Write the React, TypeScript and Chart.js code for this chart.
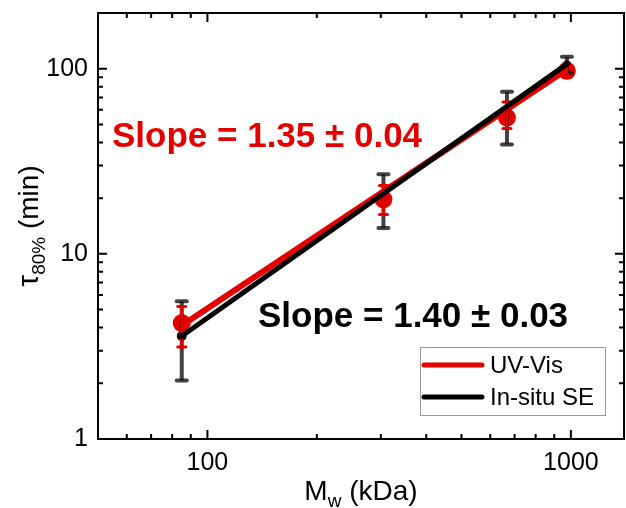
import React, { useEffect, useRef } from "react";
import { Chart, registerables } from "chart.js";
Chart.register(...registerables);

// ---- data ----
const mw = [85, 305, 667, 975];
const uvVis = [4.23, 19.7, 54.5, 97.4];
const uvVisLow = [3.14, 16.3, 47.5, 90];
const uvVisHigh = [5.2, 23.4, 66.2, 105];
const insitu = [3.6, 21, 57, 104];
const insituLow = [2.07, 13.8, 39, 95];
const insituHigh = [5.54, 26.9, 75, 116];
const uvFitX = [85, 975];
const uvFitY = [4.1, 99];
const seFitX = [85, 975];
const seFitY = [3.6, 106];
const seriesNames = ["UV-Vis", "In-situ SE"];
const slopeTexts = ["Slope = 1.35 \u00b1 0.04", "Slope = 1.40 \u00b1 0.03"];
const xTicks = [50, 60, 70, 80, 90, 100, 200, 300, 400, 500, 600, 700, 800, 900, 1000];
const yTicks = [1, 2, 3, 4, 5, 6, 7, 8, 9, 10, 20, 30, 40, 50, 60, 70, 80, 90, 100, 200];
const xLabels = [100, 1000];
const yLabels = [1, 10, 100];

const RED = "#e50000";
const FONT = "'Liberation Sans', Arial, sans-serif";

const pts = (xs: number[], ys: number[]) => xs.map((x, i) => ({ x, y: ys[i] }));

const customPlugin = {
  id: "custom",
  afterDatasetDraw(chart: any, args: any) {
    if (args.index !== 2) return;
    const { ctx, scales } = chart;
    const x = scales.x, y = scales.y;
    ctx.save();
    const bars = (lows: number[], highs: number[], color: string, w: number, capW: number, capLW: number) => {
      ctx.strokeStyle = color;
      mw.forEach((m, i) => {
        const px = x.getPixelForValue(m);
        const pl = y.getPixelForValue(lows[i]);
        const ph = y.getPixelForValue(highs[i]);
        ctx.lineCap = "butt";
        ctx.lineWidth = w;
        ctx.beginPath();
        ctx.moveTo(px, pl);
        ctx.lineTo(px, ph);
        ctx.stroke();
        ctx.lineCap = "round";
        ctx.lineWidth = capLW;
        [pl, ph].forEach((py) => {
          ctx.beginPath();
          ctx.moveTo(px - capW / 2, py);
          ctx.lineTo(px + capW / 2, py);
          ctx.stroke();
        });
      });
    };
    bars(insituLow, insituHigh, "rgba(20,20,20,0.8)", 4, 10, 4);
    bars(uvVisLow, uvVisHigh, RED, 3, 8, 3);
    ctx.restore();
  },
  afterDraw(chart: any) {
    const { ctx, chartArea: a, scales } = chart;
    const x = scales.x, y = scales.y;
    ctx.save();
    // frame
    ctx.strokeStyle = "#000";
    ctx.lineWidth = 2;
    ctx.strokeRect(a.left, a.top, a.right - a.left, a.bottom - a.top);
    // inward ticks
    ctx.lineWidth = 2;
    ctx.lineCap = "butt";
    xTicks.forEach((v) => {
      const px = x.getPixelForValue(v);
      if (px <= a.left + 1 || px >= a.right - 1) return;
      const len = xLabels.includes(v) ? 9 : 5;
      ctx.beginPath();
      ctx.moveTo(px, a.bottom);
      ctx.lineTo(px, a.bottom - len);
      ctx.moveTo(px, a.top);
      ctx.lineTo(px, a.top + len);
      ctx.stroke();
    });
    yTicks.forEach((v) => {
      const py = y.getPixelForValue(v);
      if (py <= a.top + 1 || py >= a.bottom - 1) return;
      const len = yLabels.includes(v) ? 9 : 5;
      ctx.beginPath();
      ctx.moveTo(a.left, py);
      ctx.lineTo(a.left + len, py);
      ctx.moveTo(a.right, py);
      ctx.lineTo(a.right - len, py);
      ctx.stroke();
    });
    // x title with subscript
    ctx.fillStyle = "#000";
    ctx.textBaseline = "alphabetic";
    ctx.textAlign = "left";
    const big = `28px ${FONT}`;
    const small = `19px ${FONT}`;
    ctx.font = big;
    const wM = ctx.measureText("M").width;
    const wRest = ctx.measureText(" (kDa)").width;
    ctx.font = small;
    const wW = ctx.measureText("w").width;
    const total = wM + wW + wRest;
    const sx = (a.left + a.right) / 2 - total / 2;
    const by = 500;
    ctx.font = big;
    ctx.fillText("M", sx, by);
    ctx.font = small;
    ctx.fillText("w", sx + wM, by + 7);
    ctx.font = big;
    ctx.fillText(" (kDa)", sx + wM + wW, by);
    // y title rotated
    ctx.save();
    ctx.translate(38, (a.top + a.bottom) / 2);
    ctx.rotate(-Math.PI / 2);
    const tau = `30px ${FONT}`;
    ctx.font = tau;
    const wT = ctx.measureText("\u03c4").width;
    ctx.font = big;
    const wMin = ctx.measureText(" (min)").width;
    ctx.font = small;
    const w80 = ctx.measureText("80%").width;
    const tot2 = wT + w80 + wMin;
    const ty = -tot2 / 2;
    ctx.font = tau;
    ctx.fillText("\u03c4", ty, 0);
    ctx.font = small;
    ctx.fillText("80%", ty + wT, 7);
    ctx.font = big;
    ctx.fillText(" (min)", ty + wT + w80, 0);
    ctx.restore();
    // slope annotations
    ctx.font = `bold 35px ${FONT}`;
    ctx.fillStyle = RED;
    ctx.fillText(slopeTexts[0], a.left + 14, a.top + 134);
    ctx.fillStyle = "#000";
    ctx.fillText(slopeTexts[1], a.left + 160, a.top + 314);
    // legend
    const lx = a.right - 204, ly = a.bottom - 92, lw = 185, lh = 68;
    ctx.fillStyle = "#fff";
    ctx.fillRect(lx, ly, lw, lh);
    ctx.strokeStyle = "#999";
    ctx.lineWidth = 1;
    ctx.strokeRect(lx + 0.5, ly + 0.5, lw, lh);
    const cols = [RED, "#000"];
    ctx.font = `24px ${FONT}`;
    ctx.textBaseline = "middle";
    seriesNames.forEach((n, i) => {
      const yy = ly + 18 + i * 32;
      ctx.strokeStyle = cols[i];
      ctx.lineWidth = 5;
      ctx.lineCap = "round";
      ctx.beginPath();
      ctx.moveTo(lx + 4, yy);
      ctx.lineTo(lx + 62, yy);
      ctx.stroke();
      ctx.fillStyle = "#000";
      ctx.fillText(n, lx + 70, yy + 1);
    });
    ctx.restore();
  },
};

export default function App() {
  const ref = useRef<HTMLCanvasElement | null>(null);
  useEffect(() => {
    if (!ref.current) return;
    const chart = new Chart(ref.current, {
      type: "scatter",
      data: {
        datasets: [
          {
            label: seriesNames[0] + " fit",
            data: pts(uvFitX, uvFitY),
            showLine: true,
            borderColor: RED,
            borderWidth: 6,
            pointRadius: 0,
            order: 2,
          },
          {
            label: seriesNames[1] + " fit",
            data: pts(seFitX, seFitY),
            showLine: true,
            borderColor: "#000",
            borderWidth: 5,
            borderCapStyle: "square",
            pointRadius: 0,
            order: 1,
          },
          {
            label: seriesNames[0],
            data: pts(mw, uvVis),
            backgroundColor: RED,
            borderColor: RED,
            pointRadius: 9,
            borderWidth: 0,
            order: 3,
          },
          {
            label: seriesNames[1],
            data: pts(mw, insitu),
            backgroundColor: "#000",
            borderColor: "#000",
            pointRadius: 5,
            borderWidth: 0,
            order: 4,
          },
        ],
      } as any,
      options: {
        responsive: false,
        animation: false,
        devicePixelRatio: 1,
        layout: { autoPadding: false, padding: { top: 13, right: 2, left: 0, bottom: 0 } },
        plugins: { legend: { display: false }, tooltip: { enabled: false } },
        scales: {
          x: {
            type: "logarithmic",
            min: 50,
            max: 1400,
            grid: { display: false, drawTicks: false },
            border: { display: false },
            afterBuildTicks: (s: any) => {
              s.ticks = xTicks.map((v) => ({ value: v }));
            },
            afterFit: (s: any) => {
              s.height = 69;
              s.paddingLeft = 0;
              s.paddingRight = 0;
            },
            ticks: {
              autoSkip: false,
              maxRotation: 0,
              padding: 9,
              color: "#000",
              font: { family: FONT, size: 25 },
              callback: (v: any) => (xLabels.includes(Number(v)) ? String(v) : ""),
            },
          },
          y: {
            type: "logarithmic",
            min: 1,
            max: 200,
            grid: { display: false, drawTicks: false },
            border: { display: false },
            afterBuildTicks: (s: any) => {
              s.ticks = yTicks.map((v) => ({ value: v }));
            },
            afterFit: (s: any) => {
              s.width = 98;
              s.paddingTop = 0;
              s.paddingBottom = 0;
            },
            ticks: {
              autoSkip: false,
              padding: 10,
              color: "#000",
              font: { family: FONT, size: 25 },
              callback: (v: any) => (yLabels.includes(Number(v)) ? String(v) : ""),
            },
          },
        },
      } as any,
      plugins: [customPlugin],
    });
    return () => chart.destroy();
  }, []);
  return (
    <div style={{ position: "fixed", left: 0, top: 0, width: 626, height: 508, background: "#fff" }}>
      <canvas ref={ref} width={626} height={508} />
    </div>
  );
}
